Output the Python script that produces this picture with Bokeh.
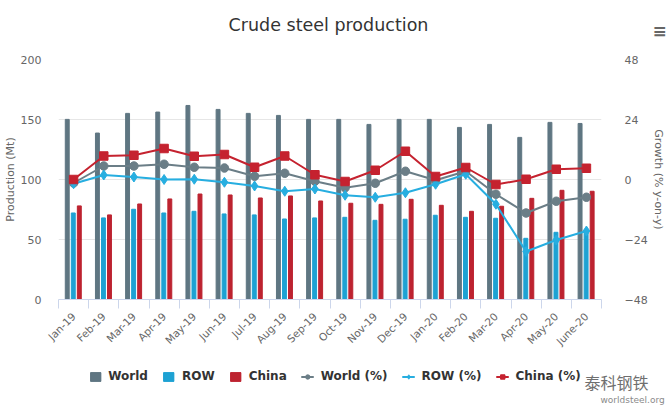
from bokeh.plotting import figure
from bokeh.models import (Range1d, LinearAxis, FixedTicker, Legend, LegendItem,
                          ColumnDataSource, Label)
from bokeh.layouts import column
from bokeh.embed import file_html
from bokeh.resources import INLINE
import math

months = ["Jan-19", "Feb-19", "Mar-19", "Apr-19", "May-19", "Jun-19", "Jul-19",
          "Aug-19", "Sep-19", "Oct-19", "Nov-19", "Dec-19", "Jan-20", "Feb-20",
          "Mar-20", "Apr-20", "May-20", "June-20"]
world = [150.1, 138.7, 155.1, 156.2, 161.7, 158.4, 155.1, 153.4, 150.1, 150.1,
         145.9, 150.1, 150.1, 143.4, 145.9, 135.1, 147.6, 146.7]
row = [72.1, 68.0, 75.2, 72.1, 73.5, 71.3, 70.5, 67.1, 68.0, 68.5,
       66.0, 66.9, 70.2, 68.5, 67.7, 51.0, 56.0, 58.0]
china = [78.0, 70.5, 79.6, 83.8, 87.9, 87.1, 84.6, 86.3, 82.1, 80.2,
         79.3, 83.5, 78.5, 73.5, 77.7, 84.3, 91.0, 90.2]
world_pct = [-1.4, 5.4, 5.4, 6.1, 4.9, 4.6, 1.3, 2.5, -0.7, -3.3,
             -1.5, 3.3, -0.3, 3.3, -5.9, -13.4, -8.7, -7.1]
row_pct = [-1.7, 1.8, 1.0, 0.0, 0.1, -1.1, -2.6, -4.7, -3.8, -6.3,
           -7.1, -5.3, -1.9, 2.1, -9.9, -28.8, -24.2, -20.6]
china_pct = [0.0, 9.4, 9.7, 12.4, 9.3, 10.0, 4.9, 9.4, 1.9, -0.8,
             3.7, 11.3, 1.2, 4.8, -2.0, 0.1, 4.1, 4.5]
left_ticks = [0, 50, 100, 150, 200]
right_ticks = [-48, -24, 0, 24, 48]
series_names = ["World", "ROW", "China", "World (%)", "ROW (%)", "China (%)"]
title_text = "Crude steel production"

C_WORLD = "#5f7682"
C_ROW = "#1ea2d3"
C_CHINA = "#bd2330"
L_WORLD = "#6b7e87"
L_ROW = "#27aee0"
L_CHINA = "#c5222f"
FONT = "DejaVu Sans"
W = 669

n = len(months)
centers = [i + 0.5 for i in range(n)]
src = ColumnDataSource(dict(
    x=centers,
    xw=[c - 0.21 for c in centers],
    xr=[c - 0.01 for c in centers],
    xc=[c + 0.19 for c in centers],
    world=world, row=row, china=china,
    wp=world_pct, rp=row_pct, cp=china_pct,
))

# ---------------- top strip: title + menu icon ----------------
TOP_H = 51
top = figure(width=W, height=TOP_H, output_backend="svg", toolbar_location=None,
             x_range=Range1d(0, W), y_range=Range1d(0, TOP_H),
             x_axis_type=None, y_axis_type=None, min_border=0,
             frame_align=False,
             outline_line_color=None, background_fill_color="white",
             border_fill_color="white")
top.grid.visible = False
top.add_layout(Label(x=328, y=27, text=title_text, text_align="center",
                     text_baseline="middle", text_font=FONT,
                     text_font_size="17.5px", text_color="#333333"))
top.add_layout(Label(x=659, y=21, text="≡", text_align="center",
                     text_baseline="middle", text_font=FONT,
                     text_font_size="17px", text_font_style="bold",
                     text_color="#666666"))

# ---------------- main chart ----------------
p = figure(frame_width=543, frame_height=240, output_backend="svg",
           toolbar_location=None, frame_align=False,
           x_range=Range1d(0, n), y_range=Range1d(0, 200),
           min_border_left=57, min_border_right=69, min_border_top=8,
           min_border_bottom=62, background_fill_color="white",
           border_fill_color="white", outline_line_color=None)
p.extra_y_ranges = {"pct": Range1d(-48, 48)}

xa = p.xaxis[0]
xa.ticker = FixedTicker(ticks=centers, minor_ticks=list(range(n + 1)))
xa.major_label_overrides = {c: m for c, m in zip(centers, months)}
xa.major_label_orientation = math.pi / 4
xa.major_tick_out = 0
xa.major_tick_in = 0
xa.minor_tick_out = 9
xa.minor_tick_in = 0
xa.minor_tick_line_color = "#ccd6eb"
xa.axis_line_color = "#ccd6eb"
xa.major_label_text_font = FONT
xa.major_label_text_font_size = "10.5px"
xa.major_label_text_color = "#666666"
xa.major_label_standoff = 6

ya = p.yaxis[0]
ya.ticker = FixedTicker(ticks=left_ticks)
ya.axis_label = "Production (Mt)"
ya.axis_label_text_font_style = "normal"
ya.axis_label_text_font = FONT
ya.axis_label_text_font_size = "11px"
ya.axis_label_text_color = "#666666"
ya.axis_line_color = None
ya.major_tick_line_color = None
ya.minor_tick_line_color = None
ya.major_label_text_font = FONT
ya.major_label_text_font_size = "11px"
ya.major_label_text_color = "#666666"
ya.major_label_standoff = 11
ya.axis_label_standoff = 1

ra = LinearAxis(y_range_name="pct", ticker=FixedTicker(ticks=right_ticks))
ra.axis_label = "Growth (% y-on-y)"
ra.axis_label_text_font_style = "normal"
ra.axis_label_text_font = FONT
ra.axis_label_text_font_size = "11px"
ra.axis_label_text_color = "#666666"
ra.axis_line_color = None
ra.major_tick_line_color = None
ra.minor_tick_line_color = None
ra.major_label_text_font = FONT
ra.major_label_text_font_size = "11px"
ra.major_label_text_color = "#666666"
ra.major_label_standoff = 17
ra.axis_label_standoff = 1
p.add_layout(ra, "right")

p.xgrid.grid_line_color = None
p.ygrid.ticker = FixedTicker(ticks=left_ticks)
p.ygrid.grid_line_color = "#e6e6e6"

bw = 0.13
p.vbar(x="xw", top="world", width=bw, source=src, color=C_WORLD)
p.vbar(x="xr", top="row", width=bw, source=src, color=C_ROW)
p.vbar(x="xc", top="china", width=bw, source=src, color=C_CHINA)

p.line("x", "wp", source=src, y_range_name="pct", color=L_WORLD, line_width=2)
p.scatter("x", "wp", source=src, y_range_name="pct", marker="circle",
          size=8.5, color=L_WORLD)
p.line("x", "rp", source=src, y_range_name="pct", color=L_ROW, line_width=2)
p.scatter("x", "rp", source=src, y_range_name="pct", marker="diamond",
          size=10, color=L_ROW)
p.line("x", "cp", source=src, y_range_name="pct", color=L_CHINA, line_width=2)
p.scatter("x", "cp", source=src, y_range_name="pct", marker="square",
          size=8.5, color=L_CHINA)

# ---------------- bottom strip: legend + watermark ----------------
BOT_H = 53
bot = figure(width=W, height=BOT_H, output_backend="svg", toolbar_location=None,
             x_range=Range1d(0, W), y_range=Range1d(0, BOT_H),
             x_axis_type=None, y_axis_type=None, min_border=0,
             frame_align=False,
             outline_line_color=None, background_fill_color="white",
             border_fill_color="white")
bot.grid.visible = False
nan = float("nan")
proxy = ColumnDataSource(dict(x=[nan], y=[nan]))  # legend proxies, draw nothing
g_w = bot.vbar(x="x", top="y", width=1, source=proxy, color=C_WORLD)
g_r = bot.vbar(x="x", top="y", width=1, source=proxy, color=C_ROW)
g_c = bot.vbar(x="x", top="y", width=1, source=proxy, color=C_CHINA)
gl_w = bot.line("x", "y", source=proxy, color=L_WORLD, line_width=2)
gs_w = bot.scatter("x", "y", source=proxy, marker="circle", size=8, color=L_WORLD)
gl_r = bot.line("x", "y", source=proxy, color=L_ROW, line_width=2)
gs_r = bot.scatter("x", "y", source=proxy, marker="diamond", size=9, color=L_ROW)
gl_c = bot.line("x", "y", source=proxy, color=L_CHINA, line_width=2)
gs_c = bot.scatter("x", "y", source=proxy, marker="square", size=8, color=L_CHINA)

legend = Legend(items=[
    LegendItem(label=series_names[0], renderers=[g_w]),
    LegendItem(label=series_names[1], renderers=[g_r]),
    LegendItem(label=series_names[2], renderers=[g_c]),
    LegendItem(label=series_names[3], renderers=[gl_w, gs_w]),
    LegendItem(label=series_names[4], renderers=[gl_r, gs_r]),
    LegendItem(label=series_names[5], renderers=[gl_c, gs_c]),
], orientation="horizontal", location="top_center")
legend.label_text_font = FONT
legend.label_text_font_style = "bold"
legend.label_text_font_size = "12px"
legend.label_text_color = "#333333"
legend.border_line_color = None
legend.background_fill_alpha = 0
legend.glyph_width = 13
legend.glyph_height = 11
legend.spacing = 14
legend.label_standoff = 7
legend.padding = 4
legend.margin = 8
bot.add_layout(legend)

bot.add_layout(Label(x=584, y=21, text="泰科钢铁", text_font="Noto Sans CJK SC",
                     text_font_size="16px", text_color="#6f6f6f",
                     text_baseline="bottom"))
bot.add_layout(Label(x=600, y=10, text="worldsteel.org", text_font=FONT,
                     text_font_size="9px", text_color="#8a8a8a",
                     text_baseline="bottom"))

layout = column(top, p, bot, spacing=0)
open("out.html", "w").write(file_html(layout, INLINE))
